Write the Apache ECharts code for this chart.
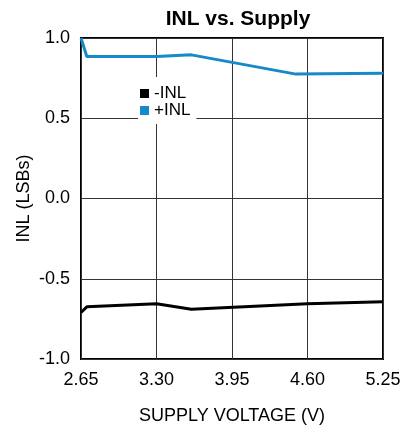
<!DOCTYPE html>
<html><head><meta charset="utf-8">
<script src="https://cdn.jsdelivr.net/npm/echarts@6/dist/echarts.min.js"></script>
<style>html,body{margin:0;padding:0;background:#fff}#c{width:404px;height:430px}</style>
</head><body><div id="c"></div>
<script>
var xTicks = [2.65, 3.30, 3.95, 4.60, 5.25];
var yTicks = [-1.0, -0.5, 0.0, 0.5, 1.0];
var negINL = [[2.65, -0.71], [2.70, -0.675], [3.30, -0.656], [3.60, -0.69], [4.60, -0.656], [5.25, -0.644]];
var posINL = [[2.65, 1.0], [2.70, 0.885], [3.30, 0.885], [3.60, 0.895], [4.50, 0.775], [5.25, 0.78]];
var FONT = 'Liberation Sans, Arial, sans-serif';
var chart = echarts.init(document.getElementById('c'));
chart.setOption({
  animation: false,
  title: { text: 'INL vs. Supply', left: 233, top: 4, textAlign: 'center',
    textStyle: { fontFamily: FONT, fontSize: 21, fontWeight: 'bold', color: '#000' } },
  legend: {
    orient: 'vertical', left: 138, top: 77, itemWidth: 9, itemHeight: 9, itemGap: 0,
    icon: 'rect', backgroundColor: '#fff', padding: [8, 6, 5, 2],
    textStyle: { fontFamily: FONT, fontSize: 17, lineHeight: 15, color: '#000' },
    data: ['-INL', '+INL']
  },
  grid: { left: 81, right: 21, top: 38, bottom: 71, show: true, borderColor: '#000', borderWidth: 2 },
  xAxis: {
    type: 'value', min: 2.65, max: 5.25,
    name: 'SUPPLY VOLTAGE (V)', nameLocation: 'middle', nameGap: 48, nameMoveOverlap: false,
    nameTextStyle: { fontFamily: FONT, fontSize: 18, color: '#000' },
    axisLine: { show: false },
    axisTick: { show: false, customValues: xTicks },
    axisLabel: { customValues: xTicks, fontFamily: FONT, fontSize: 18, color: '#000', margin: 12,
      formatter: function (v) { return v.toFixed(2); } },
    splitLine: { show: true, lineStyle: { color: '#333', width: 1 } }
  },
  yAxis: {
    type: 'value', min: -1, max: 1, interval: 0.5,
    name: 'INL (LSBs)', nameLocation: 'middle', nameGap: 48, nameRotate: 90, nameMoveOverlap: false,
    nameTextStyle: { fontFamily: FONT, fontSize: 18, color: '#000' },
    axisLine: { show: false }, axisTick: { show: false },
    axisLabel: { fontFamily: FONT, fontSize: 18, color: '#000', margin: 11,
      formatter: function (v) { return v.toFixed(1); } },
    splitLine: { show: true, lineStyle: { color: '#333', width: 1 } }
  },
  series: [
    { name: '-INL', type: 'line', data: negINL, showSymbol: false, color: '#000',
      lineStyle: { color: '#000', width: 3 } },
    { name: '+INL', type: 'line', data: posINL, showSymbol: false, color: '#1689c8',
      lineStyle: { color: '#1689c8', width: 3 } }
  ]
});
</script></body></html>
